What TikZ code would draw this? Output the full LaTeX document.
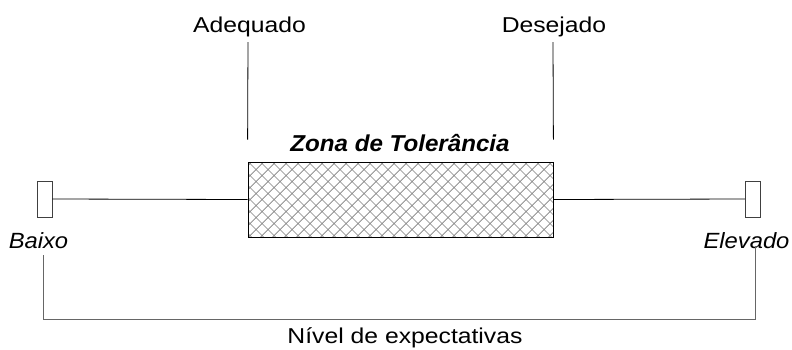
\documentclass[tikz,border=0pt]{standalone}
\usepackage{fontspec}
\setmainfont{Liberation Sans}[FakeStretch=1.15]
\newfontfamily\italfont{Liberation Sans}[FakeStretch=1.08]
\newfontfamily\zonafont{Liberation Sans}[FakeStretch=1.05]
\usepackage{tikz}
\usetikzlibrary{positioning}

\begin{document}
\begin{tikzpicture}[x=1pt, y=-1pt,
        label text/.style = {inner sep=0pt, anchor=base, font=\fontsize{21.5}{24}\selectfont},
        end text/.style = {inner sep=0pt, anchor=base, font=\italfont\itshape\fontsize{22}{24}\selectfont},
        end box/.style = {draw=black!75, line width=0.8pt, inner sep=0pt, minimum width=15pt, minimum height=36pt},
        thin line/.style = {line width=0.8pt}]
                \useasboundingbox (0, 0) rectangle (792, 349);

                % zona de tolerancia
                \node [draw, line width=0.8pt, inner sep=0pt, minimum width=305pt, minimum height=75pt,
                    path picture = {
                        \foreach \i in {-236, -224, ..., 160} {
                            \draw [black!50, line width=0.7pt] (\i pt, -37.5pt) -- ++(75pt, 75pt);
                            \draw [black!50, line width=0.7pt] (\i pt, 37.5pt) -- ++(75pt, -75pt);
                        }
                    }] (zona) at (400.5, 199.5) {};
                \node [inner sep=0pt, anchor=base, font=\zonafont\bfseries\itshape\fontsize{23}{26}\selectfont]
                    (zonatxt) at (400, 151.5) {Zona de Tolerância};

                % extremos
                \node [end box] (baixobox) at (44.5, 199) {};
                \node [end box] (elevbox) at (753, 199) {};
                \draw [thin line] (baixobox.east) -- (zona.west);
                \draw [thin line] (zona.east) -- (elevbox.west);
                \node [end text] (baixo) at (38.5, 248) {Baixo};
                \node [end text] (elevado) at (746.5, 248) {Elevado};

                % adequado e desejado
                \node [label text] (adequado) at (249.5, 32) {Adequado};
                \node [label text] (desejado) at (554, 32) {Desejado};
                \coordinate (adeqtop) at (248, 42);
                \coordinate (desetop) at (553, 42);
                \draw [thin line] (adeqtop) -- ([yshift=22pt]zona.north west);
                \draw [thin line] (desetop) -- ([yshift=22pt]zona.north east);

                % nivel de expectativas
                \coordinate (brLtop) at (43, 255);
                \coordinate (brRtop) at (755, 246);
                \coordinate (brLbot) at (43, 319);
                \coordinate (brRbot) at (755, 319);
                \draw [thin line, black!60] (brLtop) -- (brLbot) -- (brRbot) -- (brRtop);
                \node [label text] (nivel) at (405, 343) {Nível de expectativas};
\end{tikzpicture}
\end{document}
